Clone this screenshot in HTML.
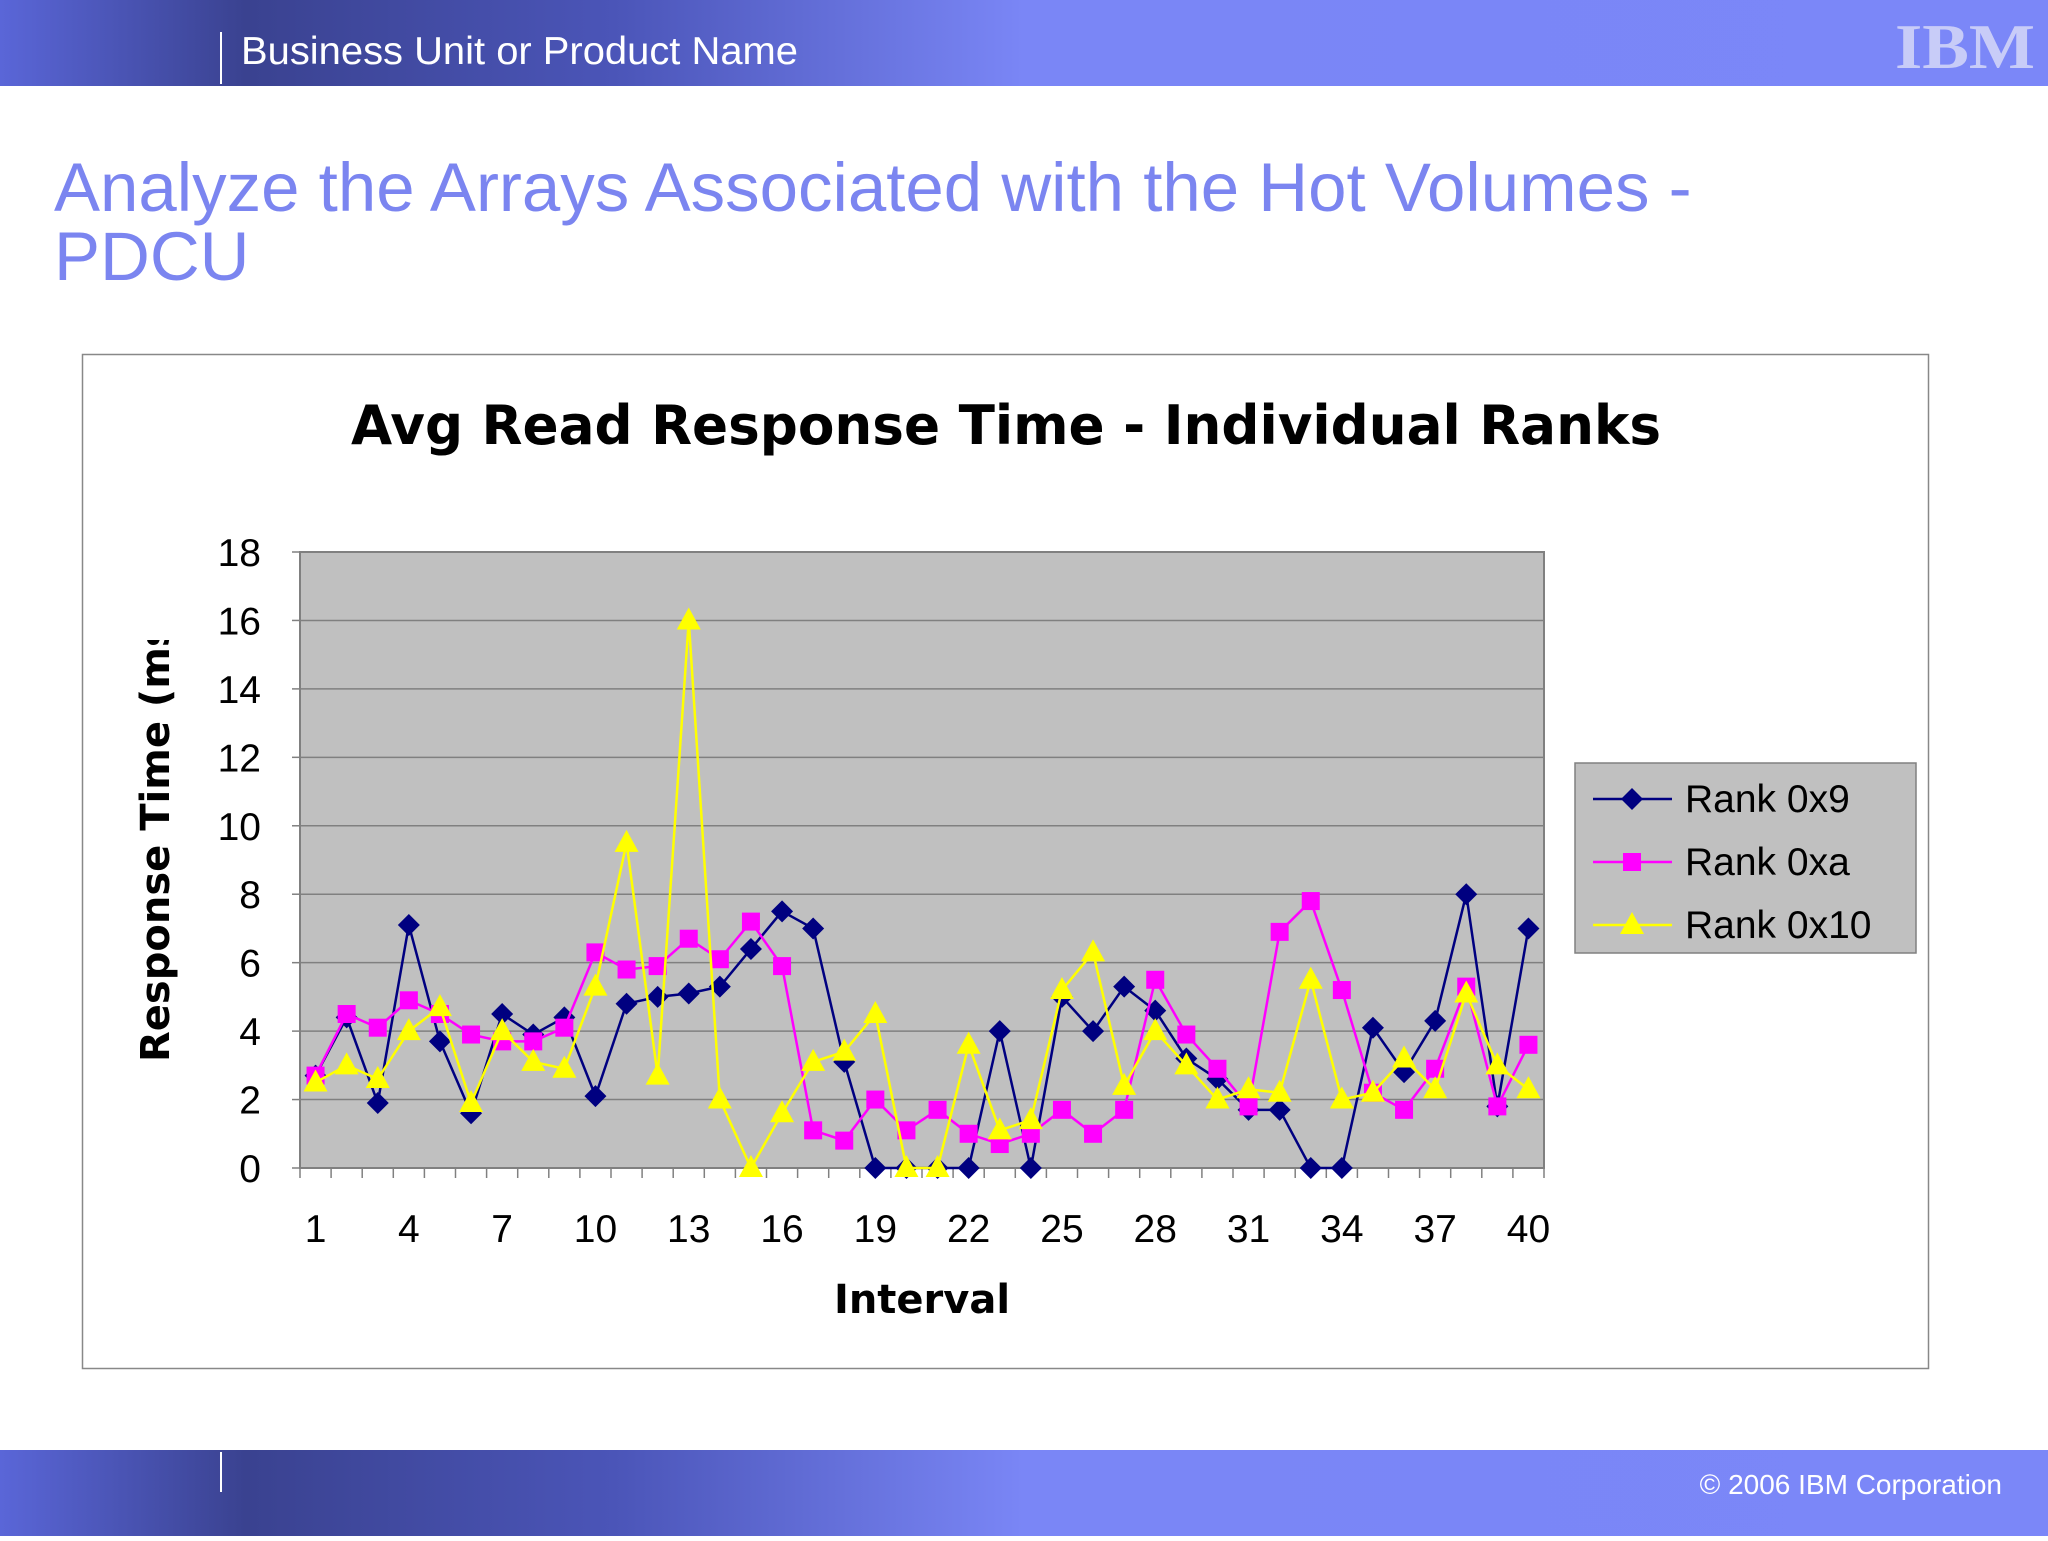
<!DOCTYPE html>
<html><head><meta charset="utf-8"><style>
html,body{margin:0;padding:0;background:#fff;}
body{width:2048px;height:1536px;overflow:hidden;position:relative;font-family:"Liberation Sans",sans-serif;}
</style></head><body>
<svg id="page" width="2048" height="1536" viewBox="0 0 2048 1536" xmlns="http://www.w3.org/2000/svg">
<defs>
<linearGradient id="hdr" x1="0" x2="1" y1="0" y2="0">
<stop offset="0" stop-color="#5a66d8"/><stop offset="0.12" stop-color="#3a4290"/><stop offset="0.3" stop-color="#4b55b8"/><stop offset="0.5" stop-color="#7a86f6"/><stop offset="1" stop-color="#7b87f8"/>
</linearGradient>
<clipPath id="ytclip"><rect x="100" y="640" width="100" height="440"/></clipPath>
</defs>
<g>
<rect x="0" y="0" width="2048" height="86" fill="url(#hdr)"/>
<rect x="220" y="32" width="2" height="52" fill="#fff"/>
<text x="241" y="64" font-size="39" fill="#fff" textLength="557" lengthAdjust="spacingAndGlyphs">Business Unit or Product Name</text>
<text x="1895" y="68" font-size="64" font-weight="bold" fill="#c8ccf8" font-family="Liberation Serif, serif" textLength="140" lengthAdjust="spacingAndGlyphs">IBM</text>
</g>
<g>
<rect x="0" y="1450" width="2048" height="86" fill="url(#hdr)"/>
<rect x="220" y="1452" width="2" height="40" fill="#fff"/>
<text x="2002" y="1494" font-size="28" fill="#fff" text-anchor="end">© 2006 IBM Corporation</text>
</g>
<text x="54" y="211" font-size="69" fill="#7b85f0">Analyze the Arrays Associated with the Hot Volumes -</text>
<text x="54" y="280" font-size="69" fill="#7b85f0">PDCU</text>
<rect x="82.5" y="354.5" width="1846" height="1014" fill="#fff" stroke="#888" stroke-width="1.5"/>
<text x="1006" y="444" font-size="54" font-weight="bold" text-anchor="middle" fill="#000" font-family="DejaVu Sans, sans-serif" textLength="1310" lengthAdjust="spacingAndGlyphs">Avg Read Response Time - Individual Ranks</text>
<g clip-path="url(#ytclip)">
<text x="0" y="0" font-size="40" font-weight="bold" fill="#000" font-family="DejaVu Sans, sans-serif" transform="translate(169,1062) rotate(-90)">Response Time (ms)</text>
</g>
<g id="chart"></g>
</svg>
<script>
const categories = Array.from({length:40},(_,i)=>i+1);
const rank0x9 = [2.7,4.4,1.9,7.1,3.7,1.6,4.5,3.9,4.4,2.1,4.8,5.0,5.1,5.3,6.4,7.5,7.0,3.1,0,0,0,0,4.0,0,5.0,4.0,5.3,4.6,3.2,2.6,1.7,1.7,0,0,4.1,2.8,4.3,8.0,1.8,7.0];
const rank0xa = [2.7,4.5,4.1,4.9,4.5,3.9,3.7,3.7,4.1,6.3,5.8,5.9,6.7,6.1,7.2,5.9,1.1,0.8,2.0,1.1,1.7,1.0,0.7,1.0,1.7,1.0,1.7,5.5,3.9,2.9,1.8,6.9,7.8,5.2,2.2,1.7,2.9,5.3,1.8,3.6];
const rank0x10 = [2.5,3.0,2.6,4.0,4.7,1.9,4.0,3.1,2.9,5.3,9.5,2.7,16.0,2.0,0,1.6,3.1,3.4,4.5,0,0,3.6,1.1,1.4,5.2,6.3,2.4,4.0,3.0,2.0,2.3,2.2,5.5,2.0,2.2,3.2,2.3,5.1,3.0,2.3];
const yTicks = [0,2,4,6,8,10,12,14,16,18];
const xTickLabels = [1,4,7,10,13,16,19,22,25,28,31,34,37,40];
const seriesNames = ["Rank 0x9","Rank 0xa","Rank 0x10"];

const NS="http://www.w3.org/2000/svg";
const L=300,R=1544,T=552,B=1168,YMAX=18;
const g=document.getElementById('chart');
const step=(R-L)/categories.length;
const xs=i=>L+step*(i+0.5);
const ys=v=>B-(v/YMAX)*(B-T);
function mk(tag,attrs,parent){const e=document.createElementNS(NS,tag);for(const k in attrs)e.setAttribute(k,attrs[k]);(parent||g).appendChild(e);return e;}
let bg=mk('rect',{x:L,y:T,width:R-L,height:B-T,fill:'#c0c0c0',stroke:'#808080','stroke-width':2});


yTicks.forEach(t=>{
  const y=ys(t);
  if(t>0){const gl=mk('line',{x1:L,x2:R,y1:y,y2:y,stroke:'#808080','stroke-width':1.5});
  
  }
  mk('line',{x1:L-8,x2:L,y1:y,y2:y,stroke:'#808080','stroke-width':1.5});
  const lb=mk('text',{x:261,y:y+14,'font-size':39,'text-anchor':'end',fill:'#000'});lb.textContent=t;
  
  
});
for(let i=0;i<=categories.length;i++){const x=L+step*i;mk('line',{x1:x,x2:x,y1:B,y2:B+10,stroke:'#808080','stroke-width':1.5});}
xTickLabels.forEach(c=>{const lb=mk('text',{x:xs(categories.indexOf(c)),y:1242,'font-size':39,'text-anchor':'middle',fill:'#000'});lb.textContent=c;
  
  });
const xt=mk('text',{x:922,y:1313,'font-size':40,'font-weight':'bold','text-anchor':'middle',fill:'#000','font-family':'DejaVu Sans, sans-serif'});xt.textContent='Interval';



function marker(type,x,y,color,parent){
  if(type==='d')return mk('polygon',{points:`${x},${y-11} ${x+11},${y} ${x},${y+11} ${x-11},${y}`,fill:color},parent);
  if(type==='s')return mk('rect',{x:x-9,y:y-9,width:18,height:18,fill:color},parent);
  return mk('polygon',{points:`${x},${y-13} ${x+12},${y+9} ${x-12},${y+9}`,fill:color},parent);
}
const series=[[rank0x9,'#000080','d'],[rank0xa,'#ff00ff','s'],[rank0x10,'#ffff00','t']];
series.forEach(([data,color,type],si)=>{
  const sg=mk('g',{});
  
  
  mk('polyline',{points:data.map((v,i)=>xs(i)+','+ys(v)).join(' '),fill:'none',stroke:color,'stroke-width':2.5},sg);
  data.forEach((v,i)=>{const m=marker(type,xs(i),ys(v),color,sg);
    
    });
});
const lg=mk('g',{});


mk('rect',{x:1575,y:763,width:341,height:190,fill:'#c0c0c0',stroke:'#808080','stroke-width':1.5},lg);
series.forEach(([d,color,type],si)=>{
  const y=799+si*63;
  const e=mk('g',{},lg);
  
  
  mk('line',{x1:1593,x2:1672,y1:y,y2:y,stroke:color,'stroke-width':2.5},e);
  marker(type,1632,y,color,e);
  const t=mk('text',{x:1685,y:y+13,'font-size':39,fill:'#000'},e);t.textContent=seriesNames[si];
});
</script>
</body></html>
